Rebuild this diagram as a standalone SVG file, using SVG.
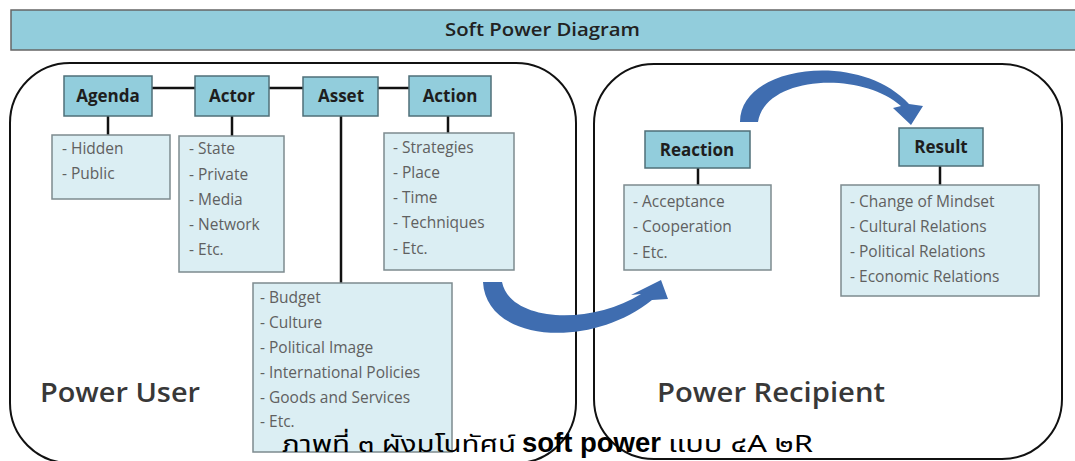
<svg xmlns="http://www.w3.org/2000/svg" width="1075" height="461" viewBox="0 0 1075 461">
<style>
.hdr{fill:#92CDDC;stroke:#4f6f78;stroke-width:1.5}
.lst{fill:#DBEEF3;stroke:#7d8b8f;stroke-width:1.5}
.ht{font-family:"Open Sans","Noto Sans",sans-serif;font-size:17px;font-weight:bold;fill:#1e1e1e;text-anchor:middle}
.it{font-family:"Open Sans","Noto Sans",sans-serif;font-size:15.5px;fill:#606060}
.big{font-family:"Open Sans","Noto Sans",sans-serif;font-size:27px;font-weight:600;fill:#383838}
.ln{stroke:#111;stroke-width:2.5;fill:none}
.frame{fill:none;stroke:#111;stroke-width:2}
.arr{fill:#3F6DB0}
.cap{font-family:"Noto Sans Thai","Noto Sans","DejaVu Sans",sans-serif;font-size:23px;fill:#000}
</style>
<rect width="1075" height="461" fill="#fff"/>
<g id="title">
<rect x="11" y="10" width="1070" height="40" fill="#92CDDC" stroke="#666" stroke-width="1.5"/>
<text x="445" y="36" class="ht" style="font-weight:600;font-size:18px;text-anchor:start;fill:#222" textLength="195" lengthAdjust="spacingAndGlyphs">Soft Power Diagram</text>
</g>
<g id="power-user">
<rect x="10" y="63" width="566" height="400" rx="60" ry="60" class="frame"/>
<text x="40" y="402" class="big" textLength="160" lengthAdjust="spacingAndGlyphs">Power User</text>
</g>
<g id="power-recipient">
<rect x="594" y="64" width="468" height="395" rx="60" ry="60" class="frame"/>
<text x="657" y="402" class="big" textLength="228" lengthAdjust="spacingAndGlyphs">Power Recipient</text>
</g>
<g id="connectors">
<line x1="152" y1="88" x2="195" y2="88" class="ln"/>
<line x1="269" y1="88" x2="303" y2="88" class="ln"/>
<line x1="378" y1="88" x2="409" y2="88" class="ln"/>
<line x1="108" y1="116" x2="108" y2="135" class="ln"/>
<line x1="232" y1="116" x2="232" y2="136" class="ln"/>
<line x1="341" y1="116" x2="341" y2="283" class="ln"/>
<line x1="448" y1="116" x2="448" y2="133" class="ln"/>
<line x1="698" y1="168" x2="698" y2="185" class="ln"/>
<line x1="940" y1="166" x2="940" y2="185" class="ln"/>
<path class="arr" d="M483,282 C486,342 590,350 652,300 L668,299 L661,280 L631,295 L641,294 C590,326 510,322 502,282 Z"/>
<path class="arr" d="M740,122 C740,65 860,50 909,104 L923,106 L911,125 L893,108 L901,106 C860,70 765,76 758,122 Z"/>
</g>
<g id="agenda">
<rect x="64" y="76" width="88" height="40" class="hdr"/>
<text x="108" y="102" class="ht">Agenda</text>
</g>
<g id="actor">
<rect x="195" y="76" width="74" height="40" class="hdr"/>
<text x="232" y="102" class="ht">Actor</text>
</g>
<g id="asset">
<rect x="303" y="77" width="75" height="39" class="hdr"/>
<text x="341" y="102" class="ht">Asset</text>
</g>
<g id="action">
<rect x="409" y="76" width="82" height="40" class="hdr"/>
<text x="450" y="102" class="ht">Action</text>
</g>
<g id="agenda-list">
<rect x="52" y="135" width="118" height="64" class="lst"/>
<text x="62" y="154" class="it">- Hidden</text>
<text x="62" y="179" class="it">- Public</text>
</g>
<g id="actor-list">
<rect x="179" y="136" width="105" height="136" class="lst"/>
<text x="189" y="154" class="it">- State</text>
<text x="189" y="180" class="it">- Private</text>
<text x="189" y="205" class="it">- Media</text>
<text x="189" y="230" class="it">- Network</text>
<text x="189" y="255" class="it">- Etc.</text>
</g>
<g id="action-list">
<rect x="384" y="133" width="130" height="137" class="lst"/>
<text x="393" y="153" class="it">- Strategies</text>
<text x="393" y="178" class="it">- Place</text>
<text x="393" y="203" class="it">- Time</text>
<text x="393" y="228" class="it">- Techniques</text>
<text x="393" y="254" class="it">- Etc.</text>
</g>
<g id="asset-list">
<rect x="253" y="283" width="199" height="169" class="lst"/>
<text x="260" y="303" class="it">- Budget</text>
<text x="260" y="328" class="it">- Culture</text>
<text x="260" y="353" class="it">- Political Image</text>
<text x="260" y="378" class="it">- International Policies</text>
<text x="260" y="403" class="it">- Goods and Services</text>
<text x="260" y="427" class="it">- Etc.</text>
</g>
<g id="reaction">
<rect x="645" y="131" width="105" height="37" class="hdr"/>
<text x="697" y="156" class="ht">Reaction</text>
</g>
<g id="result">
<rect x="899" y="128" width="84" height="38" class="hdr"/>
<text x="941" y="153" class="ht">Result</text>
</g>
<g id="reaction-list">
<rect x="624" y="185" width="147" height="85" class="lst"/>
<text x="633" y="207" class="it">- Acceptance</text>
<text x="633" y="232" class="it">- Cooperation</text>
<text x="633" y="258" class="it">- Etc.</text>
</g>
<g id="result-list">
<rect x="841" y="185" width="198" height="111" class="lst"/>
<text x="850" y="207" class="it">- Change of Mindset</text>
<text x="850" y="232" class="it">- Cultural Relations</text>
<text x="850" y="257" class="it">- Political Relations</text>
<text x="850" y="282" class="it">- Economic Relations</text>
</g>
<g id="caption">
<text x="282" y="452" class="cap" textLength="234" lengthAdjust="spacingAndGlyphs">ภาพที่ ๓ ผังมโนทัศน์</text>
<text x="522" y="452" class="cap" style="font-family:'Liberation Sans',sans-serif;font-weight:bold;font-size:27px" textLength="139" lengthAdjust="spacingAndGlyphs">soft power</text>
<text x="668" y="452" class="cap" textLength="145" lengthAdjust="spacingAndGlyphs">แบบ ๔A ๒R</text>
</g>
</svg>
